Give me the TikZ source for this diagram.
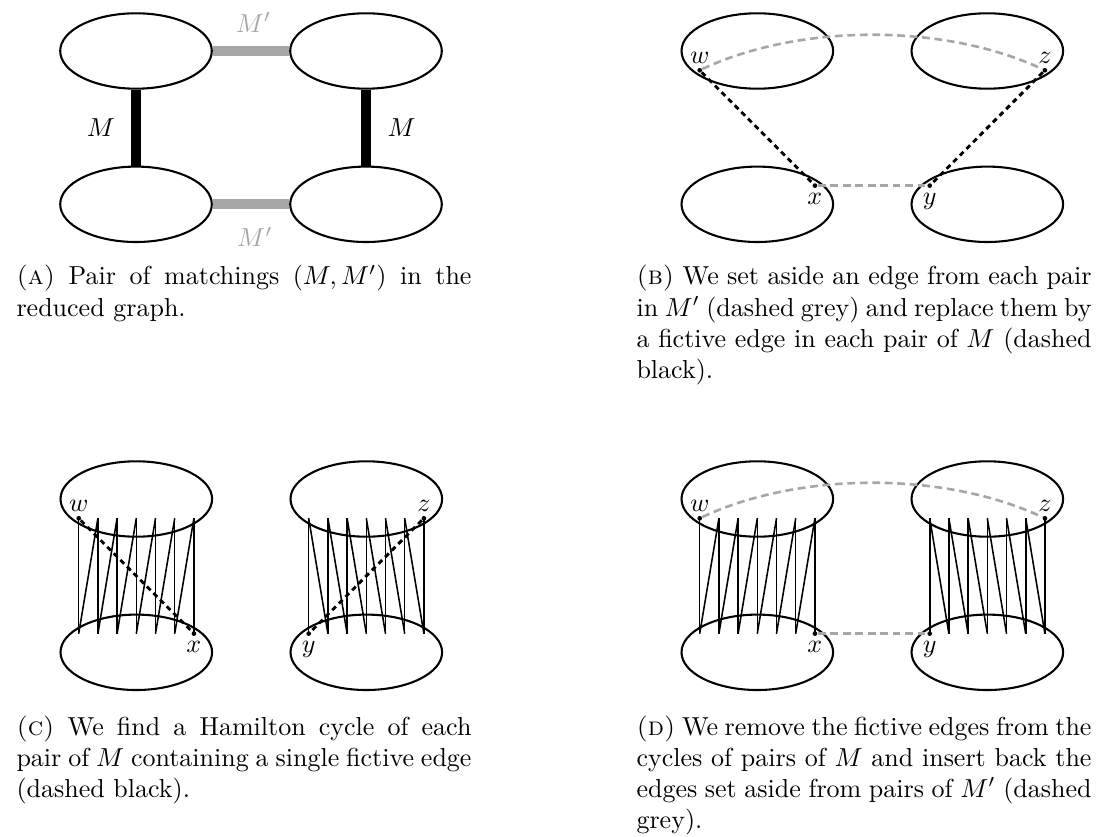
\documentclass[tikz,border=0pt]{standalone}
\usetikzlibrary{shapes.geometric}
\definecolor{mgrey}{gray}{0.65}
\begin{document}
\begin{tikzpicture}[x=0.3846pt,y=-0.3846pt,
  blob/.style={draw, line width=0.8pt, ellipse, minimum width=58.3pt, minimum height=29pt, inner sep=0pt},
  medge/.style={line width=3.8pt},
  mpedge/.style={line width=3.8pt, draw=mgrey},
  ham/.style={line width=0.6pt},
  fict/.style={line width=1.1pt, dash pattern=on 2pt off 1.6pt},
  aside/.style={line width=1pt, draw=mgrey, dash pattern=on 3pt off 1.8pt},
  dot/.style={circle, fill, inner sep=0pt, minimum size=1.8pt},
  vlab/.style={inner sep=2.6pt},
  captext/.style={anchor=base west, inner sep=0pt, text width=175pt, align=justify},
]
\useasboundingbox (0,0) rectangle (1118,836);

% ---------------- Panel A ----------------
\begin{scope}[shift={(136,51)}]
  \node[blob] (a1) at (0,0) {};
  \node[blob] (a2) at (230,0) {};
  \node[blob] (a3) at (0,153.3) {};
  \node[blob] (a4) at (230,153.3) {};
  \draw[medge] (a1.south) -- node[midway, left=2.9pt] (aM1) {$M$} (a3.north);
  \draw[medge] (a2.south) -- node[midway, right=3.1pt] (aM2) {$M$} (a4.north);
  \draw[mpedge] (a1.east) -- node[midway, above=2pt, xshift=1pt, text=mgrey] (aP1) {$M'$} (a2.west);
  \draw[mpedge] (a3.east) -- node[midway, below=3.6pt, xshift=1.5pt, text=mgrey] (aP2) {$M'$} (a4.west);
\end{scope}

% ---------------- Panel B ----------------
\begin{scope}[shift={(757.3,51)}]
  \node[blob] (b1) at (0,0) {};
  \node[blob] (b2) at (230,0) {};
  \node[blob] (b3) at (0,153.3) {};
  \node[blob] (b4) at (230,153.3) {};
  \node[dot] (bw) at (-57.6,19.3) {};
  \node[dot] (bz) at (287.6,19.3) {};
  \node[dot] (bx) at (57.6,134.6) {};
  \node[dot] (by) at (172.4,134.6) {};
  \node[vlab, above] (bwl) at (bw) {$w$};
  \node[vlab, above] (bzl) at (bz) {$z$};
  \node[vlab, below] (bxl) at (bx) {$x$};
  \node[vlab, below] (byl) at (by) {$y$};
  \draw[fict] (bw) -- (bx);
  \draw[fict] (bz) -- (by);
  \draw[aside] (bw) .. controls +(100,-47) and +(-100,-47) .. (bz);
  \draw[aside] (bx) -- (by);
\end{scope}

% ---------------- Panel C ----------------
\begin{scope}[shift={(136.3,499)}]
  \node[blob] (c1) at (0,0) {};
  \node[blob] (c2) at (230,0) {};
  \node[blob] (c3) at (0,153.3) {};
  \node[blob] (c4) at (230,153.3) {};
  \foreach \k in {0,...,6} {
    \coordinate (cLt\k) at ({-57.6+19.2*\k},19.3);
    \coordinate (cLb\k) at ({-57.6+19.2*\k},134.6);
    \coordinate (cRt\k) at ({172.4+19.2*\k},19.3);
    \coordinate (cRb\k) at ({172.4+19.2*\k},134.6);
  }
  \foreach \k in {0,...,6} {
    \draw[ham] (cLt\k) -- (cLb\k);
    \draw[ham] (cRt\k) -- (cRb\k);
  }
  \foreach \k [count=\n from 1] in {0,...,5} {
    \draw[ham] (cLb\k) -- (cLt\n);
    \draw[ham] (cRt\k) -- (cRb\n);
  }
  \node[dot] (cw) at (cLt0) {};
  \node[dot] (cx) at (cLb6) {};
  \node[dot] (cy) at (cRb0) {};
  \node[dot] (cz) at (cRt6) {};
  \node[vlab, above] (cwl) at (cw) {$w$};
  \node[vlab, above] (czl) at (cz) {$z$};
  \node[vlab, below] (cxl) at (cx) {$x$};
  \node[vlab, below] (cyl) at (cy) {$y$};
  \draw[fict] (cw) -- (cx);
  \draw[fict] (cz) -- (cy);
\end{scope}

% ---------------- Panel D ----------------
\begin{scope}[shift={(757.3,499)}]
  \node[blob] (d1) at (0,0) {};
  \node[blob] (d2) at (230,0) {};
  \node[blob] (d3) at (0,153.3) {};
  \node[blob] (d4) at (230,153.3) {};
  \foreach \k in {0,...,6} {
    \coordinate (dLt\k) at ({-57.6+19.2*\k},19.3);
    \coordinate (dLb\k) at ({-57.6+19.2*\k},134.6);
    \coordinate (dRt\k) at ({172.4+19.2*\k},19.3);
    \coordinate (dRb\k) at ({172.4+19.2*\k},134.6);
  }
  \foreach \k in {0,...,6} {
    \draw[ham] (dLt\k) -- (dLb\k);
    \draw[ham] (dRt\k) -- (dRb\k);
  }
  \foreach \k [count=\n from 1] in {0,...,5} {
    \draw[ham] (dLb\k) -- (dLt\n);
    \draw[ham] (dRt\k) -- (dRb\n);
  }
  \node[dot] (dw) at (dLt0) {};
  \node[dot] (dx) at (dLb6) {};
  \node[dot] (dy) at (dRb0) {};
  \node[dot] (dz) at (dRt6) {};
  \node[vlab, above] (dwl) at (dw) {$w$};
  \node[vlab, above] (dzl) at (dz) {$z$};
  \node[vlab, below] (dxl) at (dx) {$x$};
  \node[vlab, below] (dyl) at (dy) {$y$};
  \draw[aside] (dw) .. controls +(100,-47) and +(-100,-47) .. (dz);
  \draw[aside] (dx) -- (dy);
\end{scope}

% ---------------- Captions ----------------
\node[captext] (capA) at (16,285) {\textsc{(a)} Pair of matchings $(M,M')$ in the\linebreak reduced graph.};
\node[captext] (capB) at (636,285) {\textsc{(b)} We set aside an edge from each pair\linebreak in $M'$ (dashed grey) and replace them by\linebreak a fictive edge in each pair of $M$ (dashed\linebreak black).};
\node[captext] (capC) at (16,735) {\textsc{(c)} We find a Hamilton cycle of each\linebreak pair of $M$ containing a single fictive edge\linebreak (dashed black).};
\node[captext] (capD) at (636,735) {\textsc{(d)} We remove the fictive edges from the\linebreak cycles of pairs of $M$ and insert back the\linebreak edges set aside from pairs of $M'$ (dashed\linebreak grey).};
\end{tikzpicture}
\end{document}
